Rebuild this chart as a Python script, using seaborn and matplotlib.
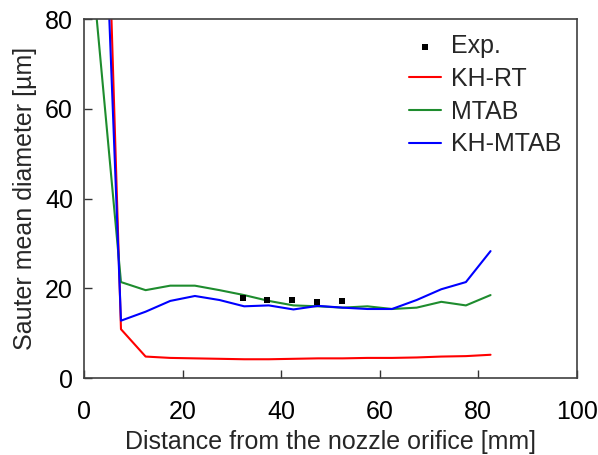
import matplotlib
matplotlib.use("Agg")
import matplotlib.pyplot as plt
import numpy as np
import pandas as pd
import seaborn as sns

sns.set_style("ticks")
plt.rcParams['font.family'] = ['Liberation Sans', 'DejaVu Sans']

# simulation positions [mm]
x_sim = [2.5, 7.5, 12.5, 17.5, 22.5, 27.5, 32.5, 37.5, 42.5, 47.5,
         52.5, 57.5, 62.5, 67.5, 72.5, 77.5, 82.5]
kh_rt = [190, 10.9, 4.8, 4.5, 4.4, 4.3, 4.2, 4.2, 4.3, 4.4,
         4.4, 4.5, 4.5, 4.6, 4.8, 4.9, 5.2]
mtab = [81, 21.4, 19.6, 20.6, 20.6, 19.6, 18.5, 17.2, 16.2, 16.0,
        15.7, 16.0, 15.4, 15.7, 17.0, 16.2, 18.5]
kh_mtab = [155, 12.8, 14.8, 17.2, 18.3, 17.4, 16.0, 16.2, 15.3, 16.1,
           15.7, 15.4, 15.4, 17.4, 19.8, 21.4, 28.3]

# experiment
x_exp = [32.2, 37.2, 42.3, 47.2, 52.3]
d_exp = [17.8, 17.4, 17.5, 16.9, 17.1]

models = ["KH-RT", "MTAB", "KH-MTAB"]
colors = {"KH-RT": "#ff0000", "MTAB": "#1e8c2e", "KH-MTAB": "#0000ff"}

sim = pd.DataFrame({
    "x": x_sim * 3,
    "d": kh_rt + mtab + kh_mtab,
    "model": [m for m in models for _ in x_sim],
})
exp = pd.DataFrame({"x": x_exp, "d": d_exp})

fig = plt.figure(figsize=(5.98, 4.55), dpi=100)
ax = fig.add_axes([0.1405, 0.169, 0.824, 0.789])

sns.scatterplot(data=exp, x="x", y="d", ax=ax, marker="s", s=14,
                color="black", edgecolor="black", linewidth=0, label="Exp.", zorder=3)
sns.lineplot(data=sim, x="x", y="d", hue="model", hue_order=models,
             palette=colors, linewidth=1.5, ax=ax)

fs = 18
ax.set_xlim(0, 100)
ax.set_ylim(0, 80)
ax.set_xticks([0, 20, 40, 60, 80, 100])
ax.set_yticks([0, 20, 40, 60, 80])
ax.tick_params(direction="in", length=6, width=1, labelsize=fs, colors="#333333",
               labelcolor="black")
ax.tick_params(axis="x", pad=16)
ax.tick_params(axis="y", pad=8)
for sp in ax.spines.values():
    sp.set_visible(True)
    sp.set_color("#404040")
    sp.set_linewidth(1.2)

ax.set_xlabel("Distance from the nozzle orifice [mm]", fontsize=fs, labelpad=4)
ax.set_ylabel("Sauter mean diameter [\u00b5m]", fontsize=fs, labelpad=6)

leg = ax.legend(loc="upper right", frameon=False, fontsize=fs,
                handlelength=1.3, handletextpad=0.4, borderaxespad=0.2,
                labelspacing=0.35)

fig.savefig("out.png", dpi=100)
